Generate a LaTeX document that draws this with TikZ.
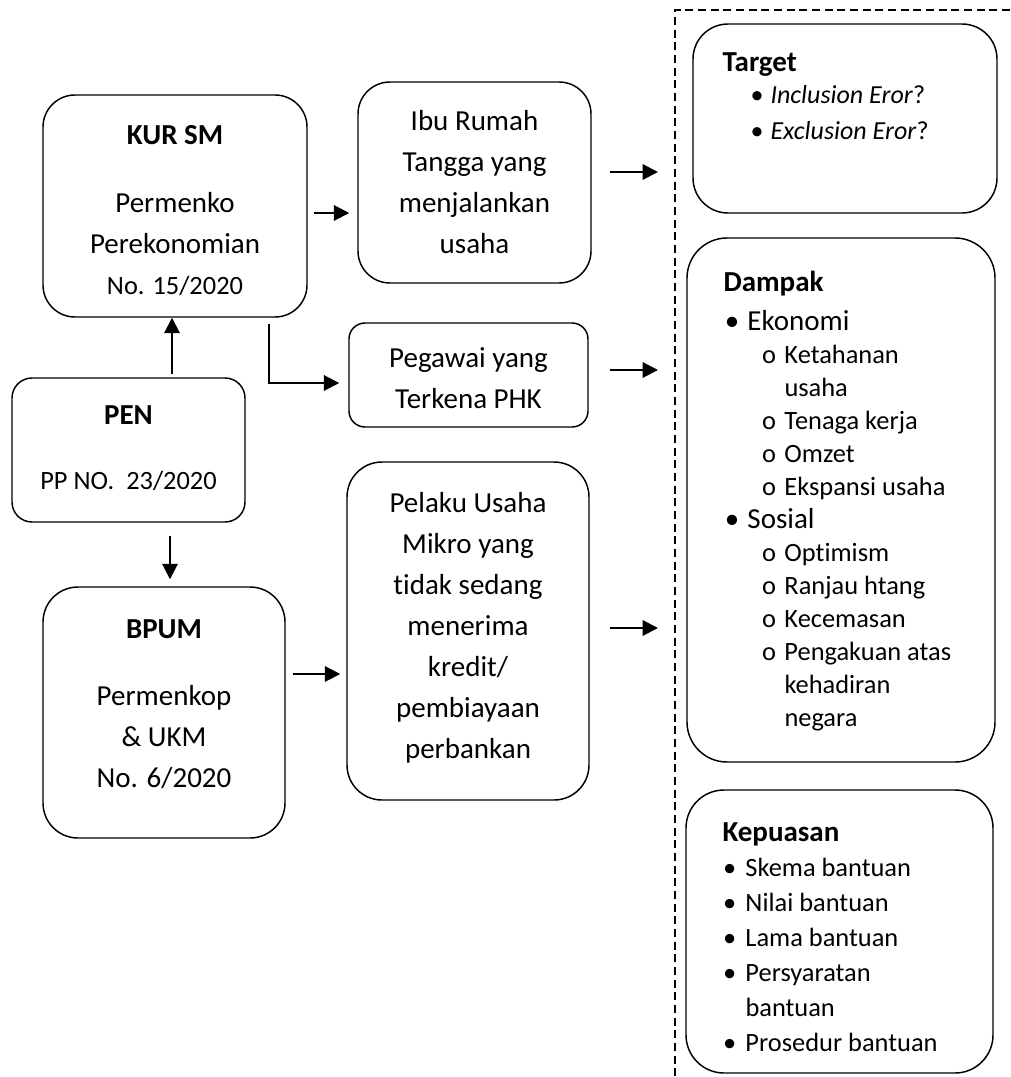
\documentclass[tikz,border=0pt]{standalone}
\usepackage{fontspec}
\setmainfont{Carlito}[Ligatures=NoCommon]
\usetikzlibrary{arrows.meta}

\tikzset{every picture/.style={line width=0.75pt}}
\tikzset{
  blok/.style={draw, rounded corners=#1, line width=1.1pt, inner sep=0pt},
  teks/.style={inner sep=0pt, align=center, anchor=base, font=\besar},
  daftar/.style={inner sep=0pt, align=left, anchor=base west},
  panah/.style={line width=1.5pt, -{Triangle[length=11.5pt,width=11.5pt]}},
  batas/.style={line width=1.1pt, dash pattern=on 6pt off 3.5pt},
}
\newcommand{\besar}{\fontsize{21.75}{30.75}\selectfont}
\newcommand{\kecil}{\fontsize{19.8}{30.75}\selectfont}
% bullet: box width, indent, text
\newcommand{\butir}[3]{\makebox[#1][l]{\hspace{#2}\textbullet}#3}
\newcommand{\subbutir}[1]{\makebox[45.75pt][l]{\hspace{29pt}o}#1}

\begin{document}
\begin{tikzpicture}[x=0.75pt,y=0.75pt,yscale=-1,xscale=1]
	\useasboundingbox (0,0) rectangle (1010,1077);

	%Shape: Rounded Rect
	\node[blok=24pt, minimum width=198pt, minimum height=166.5pt] (kur) at (175,206) {};
	%Shape: Rounded Rect
	\node[blok=15pt, minimum width=174.75pt, minimum height=108pt] (pen) at (128.5,450) {};
	%Shape: Rounded Rect
	\node[blok=26.25pt, minimum width=181.5pt, minimum height=188.25pt] (bpum) at (164,712.5) {};
	%Shape: Rounded Rect
	\node[blok=24pt, minimum width=174.75pt, minimum height=150.75pt] (ibu) at (474.5,182.5) {};
	%Shape: Rounded Rect
	\node[blok=12pt, minimum width=179.25pt, minimum height=78pt] (pegawai) at (468.5,375) {};
	%Shape: Rounded Rect
	\node[blok=26.25pt, minimum width=181.5pt, minimum height=253.5pt] (pelaku) at (468,631) {};
	%Shape: Rounded Rect
	\node[blok=26.25pt, minimum width=228pt, minimum height=141.75pt] (target) at (845,118.5) {};
	%Shape: Rounded Rect
	\node[blok=30pt, minimum width=231pt, minimum height=393pt] (dampak) at (841,500) {};
	%Shape: Rounded Rect
	\node[blok=28.5pt, minimum width=230.25pt, minimum height=212.25pt] (kepuasan) at (839.5,931.5) {};

	%Dashed Lines
	\coordinate (batasA) at (1010,10);
	\coordinate (batasB) at (675,10);
	\coordinate (batasC) at (675,1077);
	\draw[batas] (batasA) -- (batasB) -- (batasC);

	%Straight Lines
	\coordinate (ke1) at (658,172);
	\coordinate (ke2) at (658,370);
	\coordinate (ke3) at (658,628);
	\draw[panah] ([shift={(43.5,-3)}]pen.north) -- ([shift={(-3,0)}]kur.south);
	\draw[panah] ([shift={(41.5,13)}]pen.south) -- ([shift={(6,-7)}]bpum.north);
	\draw[panah] ([shift={(6,7)}]kur.east) -- ([shift={(-8,30.5)}]ibu.west);
	\draw[panah] ([shift={(94,6)}]kur.south) |- ([shift={(-9,8)}]pegawai.west);
	\draw[panah] ([shift={(7,-38.5)}]bpum.east) -- ([shift={(-6,43)}]pelaku.west);
	\draw[panah] ([shift={(18,-10.5)}]ibu.east) -- (ke1);
	\draw[panah] ([shift={(21,-5)}]pegawai.east) -- (ke2);
	\draw[panah] ([shift={(20,-3)}]pelaku.east) -- (ke3);

	% Text Node (base = last line)
	\node[teks] (kurteks) at (175,294) {\textbf{KUR SM}\\[20.25pt] Permenko\\ Perekonomian\\ {\kecil No. 15/2020}};
	% Text Node
	\node[teks] (penteks) at (128.5,489) {\textbf{PEN}\\[18pt] {\kecil PP NO.\ \ 23/2020}};
	% Text Node
	\node[teks] (bpumteks) at (164,787) {\textbf{BPUM}\\[19.5pt] Permenkop\\ \& UKM\\ No. 6/2020};
	% Text Node
	\node[teks] (ibuteks) at (474.5,253) {Ibu Rumah\\ Tangga yang\\ menjalankan\\ usaha};
	% Text Node
	\node[teks] (pegawaiteks) at (468.5,408) {Pegawai yang\\ Terkena PHK};
	% Text Node
	\node[teks] (pelakuteks) at (468,758) {Pelaku Usaha\\ Mikro yang\\ tidak sedang\\ menerima\\ kredit/\\ pembiayaan\\ perbankan};
	% Text Node
	\node[daftar, font=\fontsize{19.5}{24}\selectfont] (targetteks) at (722,140) {{\besar\textbf{Target}}\\
		\butir{36pt}{21pt}{\textit{Inclusion Eror}?}\\[3pt]
		\butir{36pt}{21pt}{\textit{Exclusion Eror}?}};
	% Text Node
	\node[daftar, font=\fontsize{19.8}{24.75}\selectfont] (dampakteks) at (723,726) {{\fontsize{21.75}{24.75}\selectfont\textbf{Dampak}}\\[4.5pt]
		{\fontsize{21.75}{24.75}\selectfont\butir{18pt}{1pt}{Ekonomi}}\\
		\subbutir{Ketahanan}\\
		\hspace*{45.75pt}usaha\\
		\subbutir{Tenaga kerja}\\
		\subbutir{Omzet}\\
		\subbutir{Ekspansi usaha}\\
		{\fontsize{21.75}{24.75}\selectfont\butir{18pt}{1pt}{Sosial}}\\
		\subbutir{Optimism}\\
		\subbutir{Ranjau htang}\\
		\subbutir{Kecemasan}\\
		\subbutir{Pengakuan atas}\\
		\hspace*{45.75pt}kehadiran\\
		\hspace*{45.75pt}negara};
	% Text Node
	\node[daftar, font=\fontsize{19.8}{26.25}\selectfont] (kepuasanteks) at (722,1051) {{\fontsize{21.75}{26.25}\selectfont\textbf{Kepuasan}}\\
		\butir{17.25pt}{0.5pt}{Skema bantuan}\\
		\butir{17.25pt}{0.5pt}{Nilai bantuan}\\
		\butir{17.25pt}{0.5pt}{Lama bantuan}\\
		\butir{17.25pt}{0.5pt}{Persyaratan}\\
		\hspace*{17.25pt}bantuan\\
		\butir{17.25pt}{0.5pt}{Prosedur bantuan}};

\end{tikzpicture}
\end{document}
